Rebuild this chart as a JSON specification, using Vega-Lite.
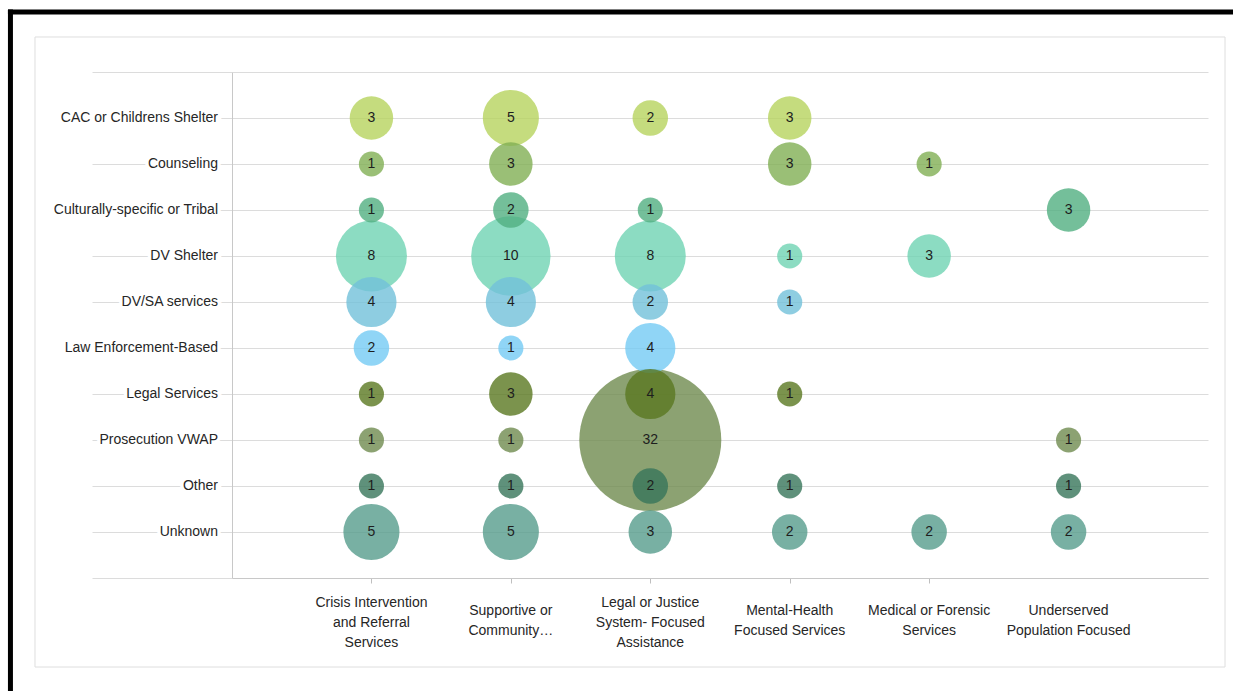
{
  "$schema": "https://vega.github.io/schema/vega-lite/v6.json",
  "autosize": "none",
  "width": 976,
  "height": 506,
  "padding": {"left": 232, "top": 72, "right": 25, "bottom": 113},
  "background": "white",
  "config": {"view": {"stroke": null}, "font": "Liberation Sans"},
  "datasets": {
    "cells": [
      {"row": "CAC or Childrens Shelter", "r": 10, "c": 1, "n": 3},
      {"row": "CAC or Childrens Shelter", "r": 10, "c": 2, "n": 5},
      {"row": "CAC or Childrens Shelter", "r": 10, "c": 3, "n": 2},
      {"row": "CAC or Childrens Shelter", "r": 10, "c": 4, "n": 3},
      {"row": "Counseling", "r": 9, "c": 1, "n": 1},
      {"row": "Counseling", "r": 9, "c": 2, "n": 3},
      {"row": "Counseling", "r": 9, "c": 4, "n": 3},
      {"row": "Counseling", "r": 9, "c": 5, "n": 1},
      {"row": "Culturally-specific  or Tribal", "r": 8, "c": 1, "n": 1},
      {"row": "Culturally-specific  or Tribal", "r": 8, "c": 2, "n": 2},
      {"row": "Culturally-specific  or Tribal", "r": 8, "c": 3, "n": 1},
      {"row": "Culturally-specific  or Tribal", "r": 8, "c": 6, "n": 3},
      {"row": "DV Shelter", "r": 7, "c": 1, "n": 8},
      {"row": "DV Shelter", "r": 7, "c": 2, "n": 10},
      {"row": "DV Shelter", "r": 7, "c": 3, "n": 8},
      {"row": "DV Shelter", "r": 7, "c": 4, "n": 1},
      {"row": "DV Shelter", "r": 7, "c": 5, "n": 3},
      {"row": "DV/SA services", "r": 6, "c": 1, "n": 4},
      {"row": "DV/SA services", "r": 6, "c": 2, "n": 4},
      {"row": "DV/SA services", "r": 6, "c": 3, "n": 2},
      {"row": "DV/SA services", "r": 6, "c": 4, "n": 1},
      {"row": "Law Enforcement-Based", "r": 5, "c": 1, "n": 2},
      {"row": "Law Enforcement-Based", "r": 5, "c": 2, "n": 1},
      {"row": "Law Enforcement-Based", "r": 5, "c": 3, "n": 4},
      {"row": "Legal Services", "r": 4, "c": 1, "n": 1},
      {"row": "Legal Services", "r": 4, "c": 2, "n": 3},
      {"row": "Legal Services", "r": 4, "c": 3, "n": 4},
      {"row": "Legal Services", "r": 4, "c": 4, "n": 1},
      {"row": "Prosecution VWAP", "r": 3, "c": 1, "n": 1},
      {"row": "Prosecution VWAP", "r": 3, "c": 2, "n": 1},
      {"row": "Prosecution VWAP", "r": 3, "c": 3, "n": 32},
      {"row": "Prosecution VWAP", "r": 3, "c": 6, "n": 1},
      {"row": "Other", "r": 2, "c": 1, "n": 1},
      {"row": "Other", "r": 2, "c": 2, "n": 1},
      {"row": "Other", "r": 2, "c": 3, "n": 2},
      {"row": "Other", "r": 2, "c": 4, "n": 1},
      {"row": "Other", "r": 2, "c": 6, "n": 1},
      {"row": "Unknown", "r": 1, "c": 1, "n": 5},
      {"row": "Unknown", "r": 1, "c": 2, "n": 5},
      {"row": "Unknown", "r": 1, "c": 3, "n": 3},
      {"row": "Unknown", "r": 1, "c": 4, "n": 2},
      {"row": "Unknown", "r": 1, "c": 5, "n": 2},
      {"row": "Unknown", "r": 1, "c": 6, "n": 2}
    ],
    "rows": [
      {"row": "CAC or Childrens Shelter", "r": 10},
      {"row": "Counseling", "r": 9},
      {"row": "Culturally-specific  or Tribal", "r": 8},
      {"row": "DV Shelter", "r": 7},
      {"row": "DV/SA services", "r": 6},
      {"row": "Law Enforcement-Based", "r": 5},
      {"row": "Legal Services", "r": 4},
      {"row": "Prosecution VWAP", "r": 3},
      {"row": "Other", "r": 2},
      {"row": "Unknown", "r": 1}
    ],
    "cols": [
      {"c": 1, "lines": ["Crisis Intervention", "and Referral", "Services"]},
      {"c": 2, "lines": ["Supportive  or", "Community…"]},
      {"c": 3, "lines": ["Legal or Justice", "System- Focused", "Assistance"]},
      {"c": 4, "lines": ["Mental-Health", "Focused Services"]},
      {"c": 5, "lines": ["Medical or Forensic", "Services"]},
      {"c": 6, "lines": ["Underserved", "Population Focused"]}
    ]
  },
  "layer": [
    {
      "data": {"name": "cells"},
      "mark": {"type": "circle", "opacity": 0.8},
      "encoding": {
        "x": {
          "field": "c", "type": "quantitative",
          "scale": {"domain": [0, 7], "nice": false, "zero": false},
          "axis": {
            "values": [1, 2, 3, 4, 5, 6],
            "grid": false,
            "title": null,
            "labels": false,
            "domainColor": "#c8c8c8",
            "tickColor": {"condition": {"test": "datum.value == 6", "value": "transparent"}, "value": "#bfbfbf"},
            "tickSize": 5
          }
        },
        "y": {
          "field": "r", "type": "quantitative",
          "scale": {"domain": [0, 11], "nice": false, "zero": false},
          "axis": {
            "values": [0, 1, 2, 3, 4, 5, 6, 7, 8, 9, 10, 11],
            "grid": true,
            "gridColor": "#dcdcdc",
            "title": null,
            "labels": false,
            "tickSize": 140,
            "tickColor": "#dcdcdc",
            "domainColor": "#c8c8c8"
          }
        },
        "size": {"field": "n", "type": "quantitative", "scale": {"type": "linear", "domain": [0, 32], "range": [0, 20164]}, "legend": null},
        "color": {
          "field": "row", "type": "nominal", "legend": null,
          "scale": {
            "domain": ["CAC or Childrens Shelter", "Counseling", "Culturally-specific  or Tribal", "DV Shelter", "DV/SA services", "Law Enforcement-Based", "Legal Services", "Prosecution VWAP", "Other", "Unknown"],
            "range": ["#b6d35e", "#81af54", "#51af81", "#6fd3b3", "#72c1d9", "#74caf4", "#5a7820", "#6f8b4f", "#37765a", "#569c8c"]
          }
        },
        "order": {"field": "n", "type": "quantitative", "sort": "descending"}
      }
    },
    {
      "data": {"values": [{}]},
      "mark": {"type": "rect", "fill": null, "stroke": "#dedede", "strokeWidth": 1},
      "encoding": {
        "x": {"datum": -1.413, "type": "quantitative", "title": null},
        "x2": {"datum": 7.122},
        "y": {"datum": 11.761, "type": "quantitative", "title": null},
        "y2": {"datum": -1.935}
      }
    },
    {
      "data": {"values": [{}]},
      "mark": {"type": "rule", "color": "black", "strokeWidth": 5, "strokeCap": "square"},
      "encoding": {
        "x": {"datum": -1.589, "type": "quantitative", "title": null},
        "y": {"datum": 12.304, "type": "quantitative", "title": null},
        "y2": {"datum": -2.7}
      }
    },
    {
      "data": {"values": [{}]},
      "mark": {"type": "rule", "color": "black", "strokeWidth": 5, "strokeCap": "square"},
      "encoding": {
        "x": {"datum": -1.589, "type": "quantitative", "title": null},
        "x2": {"datum": 7.4},
        "y": {"datum": 12.304, "type": "quantitative", "title": null}
      }
    },
    {
      "data": {"name": "cells"},
      "mark": {"type": "text", "font": "Liberation Sans", "fontSize": 14, "color": "#1e1e1e", "align": "center", "baseline": "middle"},
      "encoding": {
        "x": {"field": "c", "type": "quantitative", "title": null},
        "y": {"field": "r", "type": "quantitative", "title": null},
        "text": {"field": "n", "type": "quantitative"}
      }
    },
    {
      "data": {"name": "cols"},
      "transform": [{"filter": "length(datum.lines) == 3"}],
      "mark": {"type": "text", "font": "Liberation Sans", "fontSize": 14, "color": "#262626", "align": "center", "baseline": "middle", "lineHeight": 20, "dy": 25},
      "encoding": {
        "x": {"field": "c", "type": "quantitative", "title": null},
        "y": {"datum": 0, "type": "quantitative", "title": null},
        "text": {"field": "lines"}
      }
    },
    {
      "data": {"name": "cols"},
      "transform": [{"filter": "length(datum.lines) == 2"}],
      "mark": {"type": "text", "font": "Liberation Sans", "fontSize": 14, "color": "#262626", "align": "center", "baseline": "middle", "lineHeight": 20, "dy": 33},
      "encoding": {
        "x": {"field": "c", "type": "quantitative", "title": null},
        "y": {"datum": 0, "type": "quantitative", "title": null},
        "text": {"field": "lines"}
      }
    },
    {
      "data": {"name": "rows"},
      "mark": {"type": "text", "font": "Liberation Sans", "fontSize": 14, "fill": "white", "stroke": "white", "strokeWidth": 7, "align": "right", "baseline": "middle", "dx": -14},
      "encoding": {
        "x": {"datum": 0, "type": "quantitative", "title": null},
        "y": {"field": "r", "type": "quantitative", "title": null},
        "text": {"field": "row"}
      }
    },
    {
      "data": {"name": "rows"},
      "mark": {"type": "text", "font": "Liberation Sans", "fontSize": 14, "color": "#262626", "align": "right", "baseline": "middle", "dx": -14},
      "encoding": {
        "x": {"datum": 0, "type": "quantitative", "title": null},
        "y": {"field": "r", "type": "quantitative", "title": null},
        "text": {"field": "row"}
      }
    }
  ]
}
